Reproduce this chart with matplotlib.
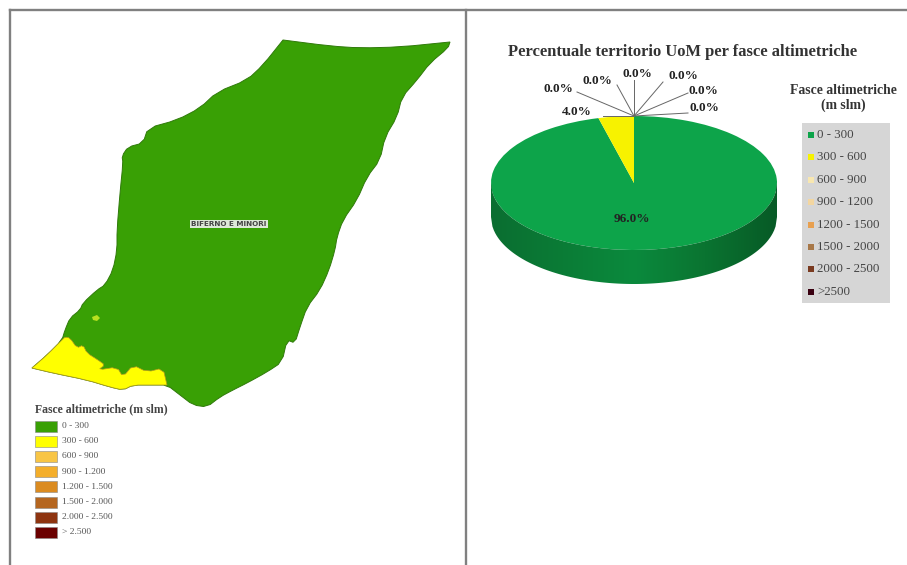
import numpy as np
import matplotlib
matplotlib.use('Agg')
import matplotlib.pyplot as plt
from matplotlib.colors import LinearSegmentedColormap
from matplotlib.patches import Polygon, Rectangle

plt.rcParams['font.family'] = ['Liberation Serif', 'DejaVu Serif']

W, H = 907, 565

# elevation classes of the pie chart
pie_classes = ['0 - 300', '300 - 600', '600 - 900', '900 - 1200',
               '1200 - 1500', '1500 - 2000', '2000 - 2500', '>2500']
pie_values = [96.0, 4.0, 0.0, 0.0, 0.0, 0.0, 0.0, 0.0]
pie_colors = ['#0DA44A', '#F7F200', '#F8E7B0', '#F3D6A0',
              '#E8A050', '#A87848', '#7A3A20', '#3A0010']

# classes of the map legend
map_classes = ['0 - 300', '300 - 600', '600 - 900', '900 - 1.200',
               '1.200 - 1.500', '1.500 - 2.000', '2.000 - 2.500', '> 2.500']
map_colors = ['#39A005', '#FFFF00', '#F8C545', '#F4AE2A',
              '#DB8B20', '#B5661F', '#8E3410', '#6B0000']

# basin outline, clockwise from the north corner (sharp corners are repeated)
basin_x = [283, 283, 330, 360, 400, 450, 450, 448, 430, 417, 402, 397, 385, 380, 367, 357,
           343, 337, 335, 329, 320, 307, 300, 295, 287, 282, 267, 247, 233, 220,
           207, 193, 180, 167, 153, 133, 123, 110, 87, 53, 32, 32, 47, 62, 65, 70,
           80, 83, 97, 105, 113, 117, 117, 120, 123, 122, 128, 143, 148, 177,
           200, 217, 247, 263]
basin_y = [40, 40, 46, 48, 47, 42, 42, 48, 63, 80, 97, 117, 137, 160, 177, 200,
           220, 237, 250, 270, 290, 307, 327, 343, 340, 362, 372, 383, 390, 397,
           407, 405, 395, 385, 385, 385, 390, 387, 380, 373, 368, 368, 355, 340, 330,
           318, 310, 303, 290, 285, 270, 250, 230, 193, 163, 156, 147, 143, 128,
           120, 108, 92, 80, 65]

# 300-600 m belt along the southern border
belt_x = [65, 70, 77, 83, 87, 98, 105, 98, 117, 123, 133, 147, 163, 167, 167,
          153, 133, 123, 110, 87, 53, 32, 32, 47, 62]
belt_y = [337, 338, 348, 345, 353, 360, 365, 370, 367, 377, 365, 372, 368, 385, 385,
          385, 385, 390, 387, 380, 373, 368, 368, 355, 340]
spot_x = [92, 97, 100, 97, 93]
spot_y = [317, 315, 318, 321, 320]


def rounded(xs, ys, passes=1):
    # corner cutting, the coast lines should not look like straight segments
    pts = np.column_stack([xs, ys]).astype(float)
    for _ in range(passes):
        nxt = np.roll(pts, -1, axis=0)
        pts = np.column_stack([0.75 * pts + 0.25 * nxt, 0.25 * pts + 0.75 * nxt]).reshape(-1, 2)
    return pts


fig = plt.figure(figsize=(W / 100, H / 100), dpi=100, facecolor='white')
ax = fig.add_axes([0, 0, 1, 1], zorder=2)
ax.set_xlim(0, W)
ax.set_ylim(H, 0)
ax.axis('off')

# panel frame
for xs, ys in [([9.5, 9.5], [565, 9.5]), ([9.5, 907], [9.5, 9.5]), ([466, 466], [9.5, 565])]:
    ax.plot(xs, ys, color='#808080', lw=1.7)

# map
ax.add_patch(Polygon(rounded(basin_x, basin_y), closed=True,
                     fc=map_colors[0], ec='#2F7A0A', lw=0.7))
ax.add_patch(Polygon(rounded(belt_x, belt_y), closed=True,
                     fc=map_colors[1], ec='#B59A20', lw=0.5))
ax.add_patch(Polygon(np.column_stack([spot_x, spot_y]), closed=True,
                     fc='#B8E020', ec='none'))
ax.text(229, 224, 'BIFERNO E MINORI', fontsize=5.2, ha='center', va='center',
        color='#444444', family='DejaVu Sans', fontweight='bold',
        bbox=dict(fc='#DDE8D8', ec='none', pad=1))

# map legend
ax.text(35, 409, 'Fasce altimetriche (m slm)', fontsize=8.5, fontweight='bold',
        color='#444444', va='center')
for i, (name, col) in enumerate(zip(map_classes, map_colors)):
    y = 426 + i * 15.2
    ax.add_patch(Rectangle((35, y - 5.5), 22, 11, fc=col, ec='#888888', lw=0.4))
    ax.text(62, y, name, fontsize=6.8, color='#555555', va='center')

# pie, squashed to an ellipse by giving its axes the ellipse's bounding box
cx, cy, rx, ry, depth = 634, 183, 143, 67, 34
pie_ax = fig.add_axes([(cx - rx) / W, 1 - (cy + ry) / H, 2 * rx / W, 2 * ry / H], zorder=1)
pie_ax.pie(pie_values, colors=pie_colors, startangle=90, counterclock=False, radius=1)
pie_ax.set_aspect('auto')
pie_ax.set_xlim(-1, 1)
pie_ax.set_ylim(-1, 1)

# side wall of the pie
t = np.linspace(-1, 1, 200)
arc_x = cx + rx * t
arc_y = cy + ry * np.sqrt(1 - t ** 2)
wall = Polygon(np.column_stack([np.r_[arc_x, arc_x[::-1]], np.r_[arc_y, arc_y[::-1] + depth]]),
               closed=True, transform=ax.transData, fc='none', ec='none')
ax.add_patch(wall)
wall_cmap = LinearSegmentedColormap.from_list('wall', ['#0B6E31', '#0A7C36', '#0B8A3D', '#0A7431', '#075A26'])
grad = ax.imshow(np.linspace(0, 1, 256)[None, :], cmap=wall_cmap, aspect='auto',
                 extent=(cx - rx, cx + rx, cy + ry + depth, cy - ry), zorder=1)
grad.set_clip_path(wall)
ax.set_xlim(0, W)
ax.set_ylim(H, 0)

# pie title and data labels
ax.text(683, 52, 'Percentuale territorio UoM per fasce altimetriche', fontsize=11.9,
        fontweight='bold', color='#333333', ha='center', va='center')

label_pos = [(632, 219), (577, 112), (558, 89), (597, 81),
             (637, 74), (683, 76), (703, 91), (704, 108)]
line_end = [None, (603, 116), (577, 92), (617, 85),
            (634, 80), (663, 82), (688, 93), (688, 113)]
for val, pos, end in zip(pie_values, label_pos, line_end):
    if end is not None:
        ax.plot([634, end[0]], [116, end[1]], color='#666666', lw=0.7, zorder=3)
    ax.text(pos[0], pos[1], f'{val:.1f}%', fontsize=9.5, fontweight='bold',
            color='#222222', ha='center', va='center', zorder=4)

# pie legend
ax.text(843, 90, 'Fasce altimetriche', fontsize=9.8, fontweight='bold',
        color='#333333', ha='center', va='center')
ax.text(843, 105, '(m slm)', fontsize=9.8, fontweight='bold',
        color='#333333', ha='center', va='center')
ax.add_patch(Rectangle((802, 123), 88, 180, fc='#D6D6D6', ec='none'))
for i, (name, col) in enumerate(zip(pie_classes, pie_colors)):
    y = 135 + i * 22.4
    ax.plot(811, y, 's', ms=4.5, color=col, mew=0)
    ax.text(817, y, name, fontsize=9.3, color='#444444', va='center')

fig.savefig('out.png', dpi=100)
